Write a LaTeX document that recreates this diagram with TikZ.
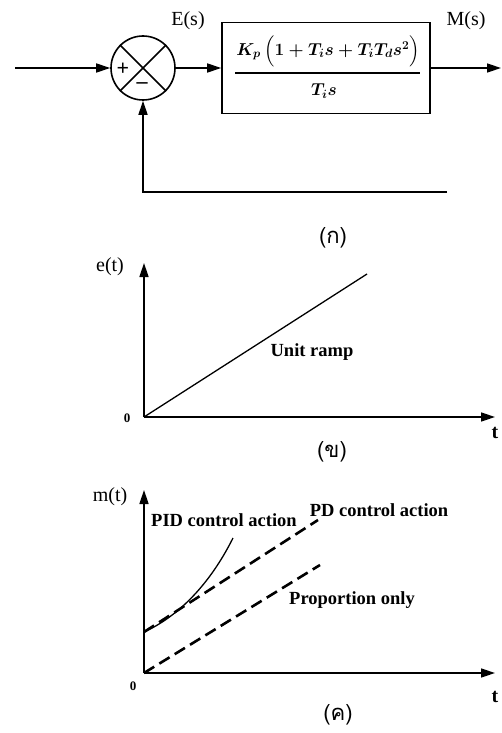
\documentclass[tikz,border=0pt]{standalone}
\usepackage{amsmath}
\usepackage{exscale}
\usepackage[no-math]{fontspec}
\setmainfont{Liberation Serif}
\newfontfamily\thaifont[Script=Thai]{Loma}
\usetikzlibrary{arrows.meta}
\newcommand\numtxt{\ensuremath{K_p\,\Bigl(1+T_is+T_iT_ds^2\Bigr)}}
\newcommand\dentxt{\ensuremath{T_is}}
\begin{document}
\begin{tikzpicture}[x=1pt,y=-1pt,
  ln/.style={line width=1.6pt},
  arr/.style={ln,-{Triangle[length=14pt,width=9pt]}},
  lbl/.style={font=\fontsize{20}{22}\selectfont, inner sep=0pt},
  bl/.style={font=\fontsize{18.5}{20}\selectfont\bfseries, inner sep=0pt},
  zero/.style={font=\fontsize{13}{14}\selectfont\bfseries, inner sep=0pt},
  th/.style={font=\thaifont\fontsize{22}{24}\selectfont, inner sep=0pt},
  mth/.style={font=\fontsize{17}{18}\selectfont\boldmath, inner sep=0pt},
  dsh/.style={line width=2.6pt, dash pattern=on 12pt off 6pt}]
\useasboundingbox (0,0) rectangle (501,733);

% ---------- (a) block diagram ----------
\node[circle, draw, ln, minimum size=64pt, inner sep=0pt] (sum) at (143,68) {};
\draw[ln] (sum.north west) -- (sum.south east);
\draw[ln] (sum.north east) -- (sum.south west);
\node[font=\fontsize{22}{22}\selectfont\bfseries, inner sep=0pt] (plus) at (123,69) {+};
\node[font=\fontsize{22}{22}\selectfont\bfseries, inner sep=0pt] (minus) at (142,86) {--};

\node[draw, ln, minimum width=208pt, minimum height=91pt] (G) at (326,68) {};
\node[mth] (num) at (328,51) {\numtxt};
\coordinate (fl) at (235,73);
\coordinate (fr) at (420,73);
\draw[line width=1.8pt] (fl) -- (fr);
\node[mth] (den) at (324,91) {\dentxt};

\coordinate (in) at (15,68);
\coordinate (out) at (501,68);
\coordinate (fb) at (447,192);
\draw[arr] (in) -- (sum.west);
\draw[arr] (sum.east) -- (G.west);
\draw[arr] (G.east) -- (out);
\draw[arr] (fb) -| (sum.south);

\node[lbl] (Es) at (188,21) {E(s)};
\node[lbl] (Ms) at (466,21) {M(s)};
\node[th] (capa) at (333,238) {(ก)};

% ---------- (b) unit ramp ----------
\coordinate (o2) at (144,417);
\coordinate (y2) at (144,263);
\coordinate (x2) at (495,417);
\coordinate (r2) at (367,274);
\draw[arr] (o2) -- (y2);
\draw[arr] (o2) -- (x2);
\draw[line width=1.3pt] (o2) -- (r2);
\node[lbl] (et) at (110,267) {e(t)};
\node[bl] (ramp) at (312,352) {Unit ramp};
\node[zero] (z2) at (127,418) {0};
\node[lbl, font=\fontsize{20}{22}\selectfont\bfseries] (t2) at (495,433) {t};
\node[th] (capb) at (332,452) {(ข)};

% ---------- (c) controller outputs ----------
\coordinate (o3) at (144,673);
\coordinate (y3) at (144,490);
\coordinate (x3) at (495,673);
\coordinate (pd0) at (144,632);
\coordinate (pd1) at (318,520);
\coordinate (p1) at (320,565);
\coordinate (pid1) at (233,538);
\draw[arr] (o3) -- (y3);
\draw[arr] (o3) -- (x3);
\draw[dsh] (pd0) -- (pd1);
\draw[dsh] (o3) -- (p1);
\draw[line width=1.3pt] (pd0) .. controls (175,618) and (208,588) .. (pid1);
\node[lbl] (mt) at (110,497) {m(t)};
\node[bl] (pidl) at (224,520) {PID control action};
\node[bl] (pdl) at (379,510) {PD control action};
\node[bl] (pl) at (352,600) {Proportion only};
\node[zero] (z3) at (133,686) {0};
\node[lbl, font=\fontsize{20}{22}\selectfont\bfseries] (t3) at (495,697) {t};
\node[th] (capc) at (338,715) {(ค)};
\end{tikzpicture}
\end{document}
